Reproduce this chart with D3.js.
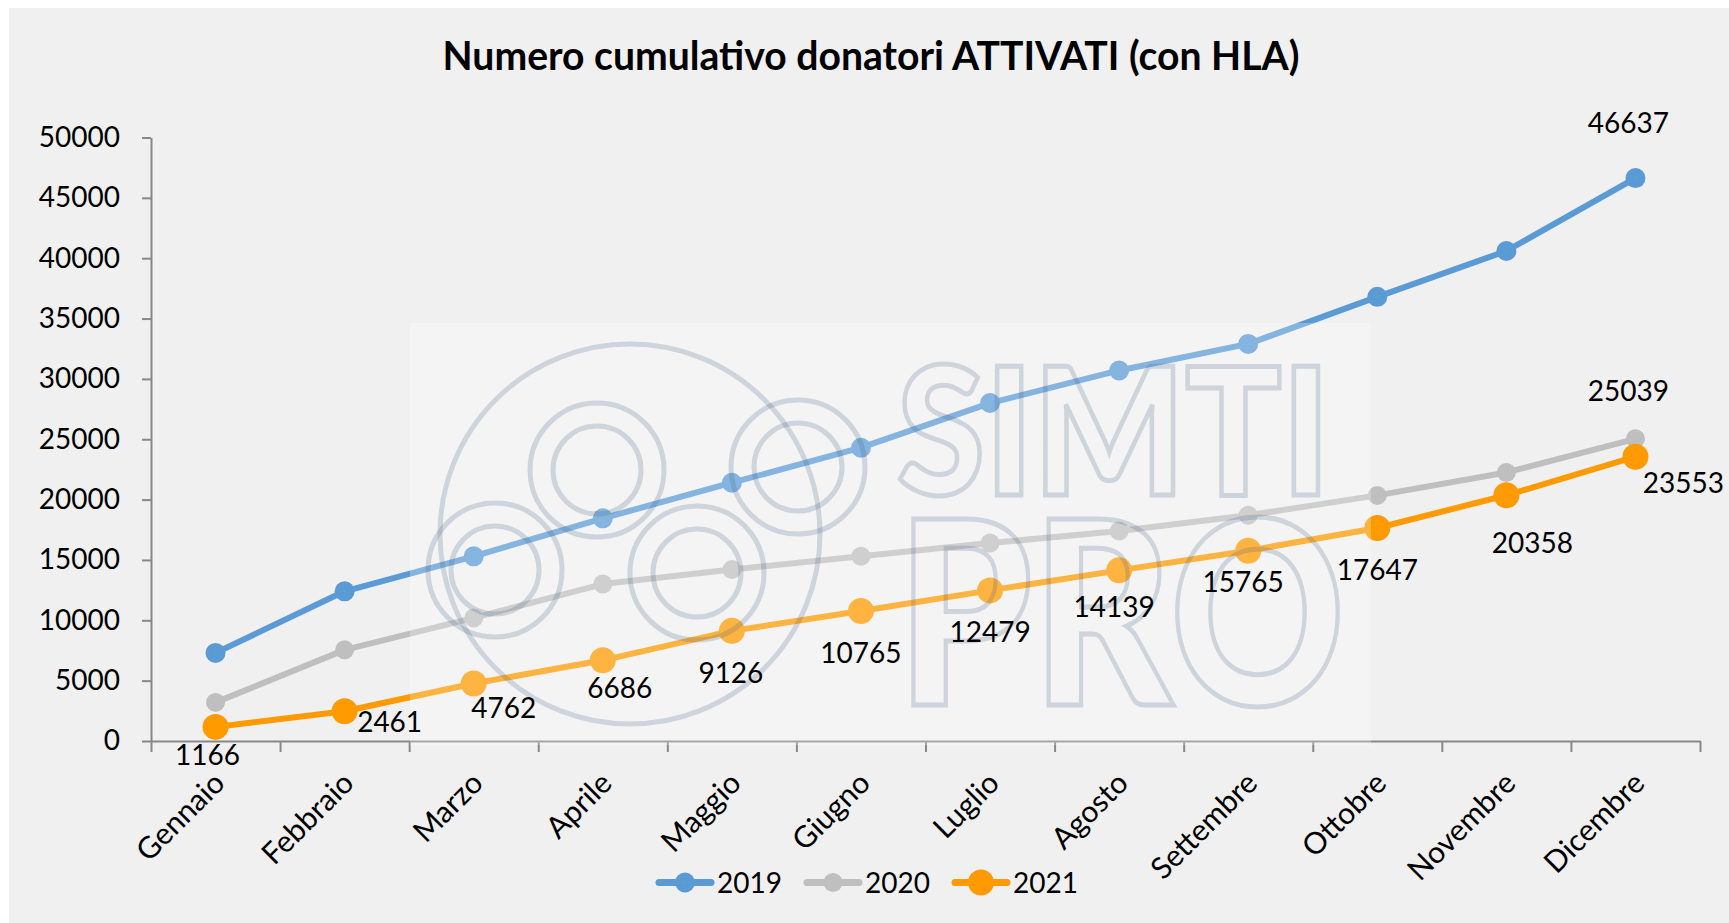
<!DOCTYPE html>
<html>
<head>
<meta charset="utf-8">
<script src="https://cdn.jsdelivr.net/npm/d3@7"></script>
<style>
  html, body { margin: 0; padding: 0; background: #ffffff; }
  svg { display: block; }
  text { font-family: Lato, "Open Sans", sans-serif; }
</style>
</head>
<body>
<svg id="chart" width="1729" height="923"></svg>
<script>
// ---------------- DATA ----------------
const months = ["Gennaio", "Febbraio", "Marzo", "Aprile", "Maggio", "Giugno",
                "Luglio", "Agosto", "Settembre", "Ottobre", "Novembre", "Dicembre"];
const seriesNames = ["2019", "2020", "2021"];
const values2019 = [7300, 12400, 15300, 18450, 21400, 24300, 28000, 30700, 32900, 36800, 40600, 46637];
const values2020 = [3200, 7550, 10200, 13000, 14200, 15300, 16400, 17400, 18700, 20350, 22250, 25039];
const values2021 = [1166, 2461, 4762, 6686, 9126, 10765, 12479, 14139, 15765, 17647, 20358, 23553];
const yTickValues = [0, 5000, 10000, 15000, 20000, 25000, 30000, 35000, 40000, 45000, 50000];
const titleText = "Numero cumulativo donatori ATTIVATI (con HLA)";
const watermarkWords = ["SIMTI", "PRO"];

// ---------------- LAYOUT / STYLE ----------------
const colors = ["#5b9bd5", "#bfbfbf", "#ff9a00"];
const markerR = [10, 9.5, 13];
const lineW = 6;
const fontSize = 28;
const xFontSize = 30;
// label nudges (dx, dy of label centre relative to its point)
const nudge2021 = [[-8,28],[45,11],[30,24],[17,28],[-1,42],[0,42],[0,42],[-5,37],[-5,31],[0,42],[26,48],[48,26]];
const nudgeLast = [[-7,-55],[-7,-48]];

const svg = d3.select("#chart");
// chart background
svg.append("rect").attr("x", 9).attr("y", 8).attr("width", 1720).attr("height", 915).attr("fill", "#f0f0f0");

const x = d3.scaleBand().domain(months).range([151, 1700]).padding(0);
const xb = d3.scaleLinear().domain([0, months.length]).range([151, 1700]);
const y = d3.scaleLinear().domain([0, 50000]).range([741, 137.5]);
const cx = m => x(m) + x.bandwidth() / 2;

// title
const title = svg.append("text")
  .attr("x", 871).attr("y", 70)
  .attr("text-anchor", "middle")
  .attr("font-weight", "bold")
  .attr("font-size", 100)
  .attr("fill", "#000")
  .text(titleText);
const tw = title.node().getComputedTextLength();
title.attr("font-size", 100 * 857 / tw);

// y axis
const yAxis = svg.append("g").attr("transform", "translate(151,0)")
  .call(d3.axisLeft(y).tickValues(yTickValues).tickSize(9).tickSizeOuter(0).tickPadding(22).tickFormat(d3.format("d")));
yAxis.select(".domain").attr("stroke", "#888").attr("stroke-width", 2);
yAxis.selectAll(".tick line").attr("stroke", "#888").attr("stroke-width", 2);
yAxis.selectAll(".tick text").attr("font-size", fontSize).attr("fill", "#000").attr("font-family", "Lato");

// x axis: boundary ticks
const xAxisTicks = svg.append("g").attr("transform", "translate(0,741)")
  .call(d3.axisBottom(xb).tickValues(d3.range(months.length + 1)).tickSize(11).tickSizeOuter(0).tickFormat(""));
xAxisTicks.select(".domain").attr("stroke", "#888").attr("stroke-width", 2);
xAxisTicks.selectAll(".tick line").attr("stroke", "#888").attr("stroke-width", 2);

// x axis labels
const xAxisLab = svg.append("g").attr("transform", "translate(0,741)")
  .call(d3.axisBottom(x).tickSize(0).tickSizeOuter(0));
xAxisLab.select(".domain").remove();
xAxisLab.selectAll(".tick text")
  .attr("x", 0).attr("y", 0).attr("dy", 0)
  .attr("text-anchor", "end")
  .attr("transform", "translate(11,44) rotate(-45)")
  .attr("font-size", xFontSize).attr("fill", "#000").attr("font-family", "Lato");

// series
const allSeries = [values2019, values2020, values2021];
const line = d3.line().x((d, i) => cx(months[i])).y(d => y(d));
allSeries.forEach((vals, s) => {
  const g = svg.append("g");
  g.append("path").datum(vals).attr("d", line)
    .attr("fill", "none").attr("stroke", colors[s]).attr("stroke-width", lineW)
    .attr("stroke-linejoin", "round").attr("stroke-linecap", "round");
  g.selectAll("circle.m").data(vals).join("circle").attr("class", "m")
    .attr("cx", (d, i) => cx(months[i])).attr("cy", d => y(d))
    .attr("r", markerR[s]).attr("fill", colors[s]);
  if (s === 0) {
    g.selectAll("circle.c").data(vals).join("circle").attr("class", "c")
      .attr("cx", (d, i) => cx(months[i])).attr("cy", d => y(d))
      .attr("r", 1.5).attr("fill", "#4bacc6");
  }
});

// watermark overlay (semi-transparent, on top of the series)
const wm = svg.append("g").attr("pointer-events", "none");
wm.append("rect").attr("x", 410).attr("y", 323).attr("width", 961).attr("height", 422)
  .attr("fill", "#ffffff").attr("opacity", 0.25);
const wmStroke = "rgba(70,100,130,0.22)";
wm.append("circle").attr("cx", 630).attr("cy", 534).attr("r", 190)
  .attr("fill", "none").attr("stroke", wmStroke).attr("stroke-width", 5);
[[597,470],[798,467],[495,570],[697,573]].forEach(c => {
  [67, 44].forEach(r => wm.append("circle").attr("cx", c[0]).attr("cy", c[1]).attr("r", r)
    .attr("fill", "none").attr("stroke", wmStroke).attr("stroke-width", 5));
});
const wmSpecs = [{x: 897, y: 495, size: 178, len: 433}, {x: 897, y: 705, size: 255, len: 448}];
watermarkWords.forEach((w, i) => {
  wm.append("text").attr("x", wmSpecs[i].x).attr("y", wmSpecs[i].y)
    .attr("font-size", wmSpecs[i].size).attr("font-weight", 900)
    .attr("textLength", wmSpecs[i].len).attr("lengthAdjust", "spacingAndGlyphs")
    .attr("fill", "none").attr("stroke", wmStroke).attr("stroke-width", 5)
    .text(w);
});

// data labels
const labels = svg.append("g").attr("font-size", fontSize).attr("fill", "#000").attr("text-anchor", "middle");
values2021.forEach((v, i) => {
  labels.append("text")
    .attr("x", cx(months[i]) + nudge2021[i][0])
    .attr("y", y(v) + nudge2021[i][1])
    .attr("dy", "0.36em")
    .text(v);
});
[values2019, values2020].forEach((vals, s) => {
  const last = vals.length - 1;
  labels.append("text")
    .attr("x", cx(months[last]) + nudgeLast[s][0])
    .attr("y", y(vals[last]) + nudgeLast[s][1])
    .attr("dy", "0.36em")
    .text(vals[last]);
});

// legend
const legend = svg.append("g");
const itemW = 148;
const legStart = 873 - (itemW * seriesNames.length - 10) / 2;
seriesNames.forEach((n, i) => {
  const x0 = legStart + i * itemW;
  const gy = 882.5;
  legend.append("line").attr("x1", x0 + 3).attr("x2", x0 + 55).attr("y1", gy).attr("y2", gy)
    .attr("stroke", colors[i]).attr("stroke-width", 7).attr("stroke-linecap", "round");
  legend.append("circle").attr("cx", x0 + 29).attr("cy", gy).attr("r", markerR[i]).attr("fill", colors[i]);
  if (i === 0) legend.append("circle").attr("cx", x0 + 29).attr("cy", gy).attr("r", 1.5).attr("fill", "#4bacc6");
  legend.append("text").attr("x", x0 + 61).attr("y", gy).attr("dy", "0.36em")
    .attr("font-size", fontSize).attr("fill", "#000").text(n);
});
</script>
</body>
</html>
